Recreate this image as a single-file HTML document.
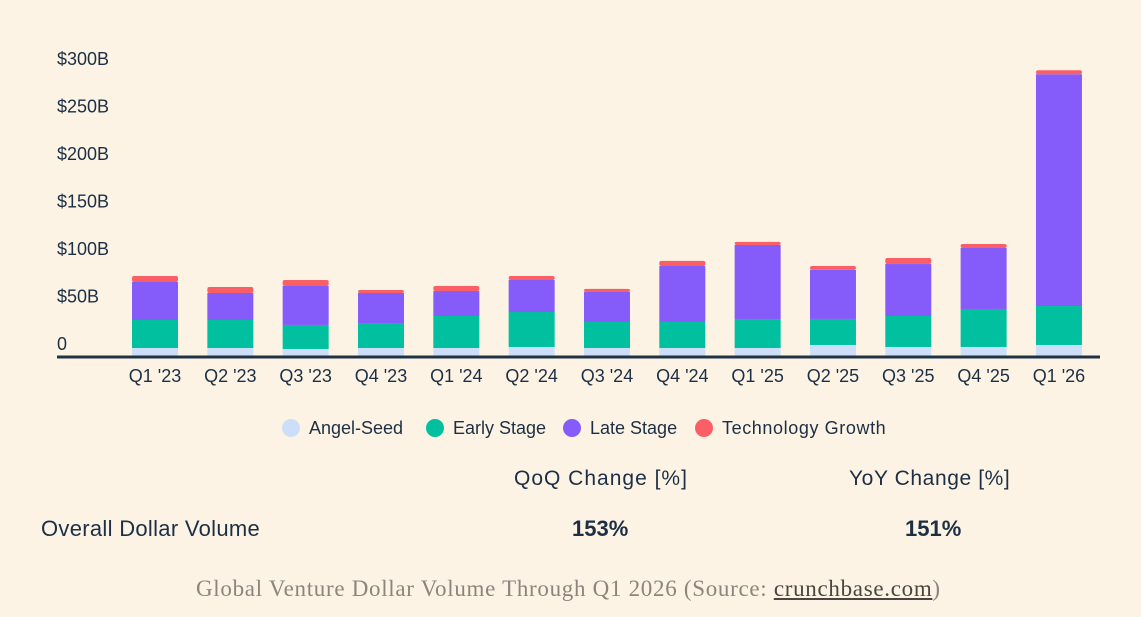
<!DOCTYPE html>
<html><head><meta charset="utf-8"><style>
html,body{margin:0;padding:0;background:#fcf3e4;width:1141px;height:617px;overflow:hidden;font-family:"Liberation Sans",sans-serif;color:#1c2f44}
svg{position:absolute;left:0;top:0}
.t{position:absolute;white-space:nowrap}
</style></head><body>
<svg id="chart" width="1141" height="617"></svg>
<div class="t" style="left:282px;top:418px;font-size:18px"><span style="display:inline-block;width:18px;height:18px;border-radius:50%;background:#cddff8;vertical-align:-3px;margin-right:9px"></span>Angel-Seed</div>
<div class="t" style="left:426px;top:418px;font-size:18px"><span style="display:inline-block;width:18px;height:18px;border-radius:50%;background:#00c0a0;vertical-align:-3px;margin-right:9px"></span>Early Stage</div>
<div class="t" style="left:563px;top:418px;font-size:18px"><span style="display:inline-block;width:18px;height:18px;border-radius:50%;background:#855bfa;vertical-align:-3px;margin-right:9px"></span>Late Stage</div>
<div class="t" style="left:695px;top:418px;font-size:18px;letter-spacing:0.6px"><span style="display:inline-block;width:18px;height:18px;border-radius:50%;background:#fb5f66;vertical-align:-3px;margin-right:9px"></span>Technology Growth</div>
<div class="t" style="left:514px;top:467px;font-size:21px;letter-spacing:1px">QoQ Change [%]</div>
<div class="t" style="left:849px;top:467px;font-size:21px;letter-spacing:0.6px">YoY Change [%]</div>
<div class="t" style="left:41px;top:516px;font-size:22px;letter-spacing:0.3px">Overall Dollar Volume</div>
<div class="t" style="left:572px;top:516px;font-size:22px;font-weight:bold">153%</div>
<div class="t" style="left:905px;top:516px;font-size:22px;font-weight:bold">151%</div>
<div class="t" style="left:196px;top:576px;font-size:23px;letter-spacing:0.7px;font-family:'Liberation Serif',serif;color:#8c857b">Global Venture Dollar Volume Through Q1 2026 (Source: <span style="color:#4a4540;text-decoration:underline">crunchbase.com</span>)</div>
<script>
const categories=["Q1 '23","Q2 '23","Q3 '23","Q4 '23","Q1 '24","Q2 '24","Q3 '24","Q4 '24","Q1 '25","Q2 '25","Q3 '25","Q4 '25","Q1 '26"];
const angelSeed=[8.4,8.4,7.4,8.4,8.4,9.5,8.4,8.4,8.4,11.6,9.5,9.5,11.6];
const earlyStage=[29.5,29.5,25.3,26.3,33.7,36.8,27.4,27.4,30.5,27.4,32.6,40,41];
const lateStage=[40,28.4,41,31.6,26.3,33.7,31.6,59,78,51.6,54.7,64.2,244];
const techGrowth=[6.3,6.3,6.3,3.2,5.3,4.2,3.2,5.3,3.2,4.2,6.3,4.2,4.2];
const yTicks=[0,50,100,150,200,250,300];
const yTickLabels=["0","$50B","$100B","$150B","$200B","$250B","$300B"];
const NS="http://www.w3.org/2000/svg";
const svg=document.getElementById('chart');
const base=356, scale=0.95;
const y=v=>base-v*scale;
const x=i=>155+i*75.33;
function mk(tag,attrs){const e=document.createElementNS(NS,tag);for(const k in attrs)e.setAttribute(k,attrs[k]);svg.appendChild(e);return e;}
yTicks.forEach((v,i)=>{const t=mk('text',{x:57,y:y(v)-6,'font-size':18,fill:'#1c2f44','font-family':'Liberation Sans, sans-serif'});t.textContent=yTickLabels[i];

});
const series=[[angelSeed,'#cddff8','angel-seed'],[earlyStage,'#00c0a0','early-stage'],[lateStage,'#855bfa','late-stage'],[techGrowth,'#fb5f66','technology-growth']];
categories.forEach((c,i)=>{let acc=0;
series.forEach(([arr,col,nm],s)=>{const v=arr[i];const r=mk('rect',{x:x(i)-23,y:y(acc+v),width:46,height:v*scale,fill:col});
if(s===3){r.setAttribute('rx',2);}


acc+=v;});
const t=mk('text',{x:x(i),y:382,'text-anchor':'middle','font-size':18,fill:'#1c2f44','font-family':'Liberation Sans, sans-serif'});t.textContent=c;

});
const ax=mk('rect',{x:57,y:355.5,width:1043,height:3,fill:'#1f3347'});


</script>
</body></html>
